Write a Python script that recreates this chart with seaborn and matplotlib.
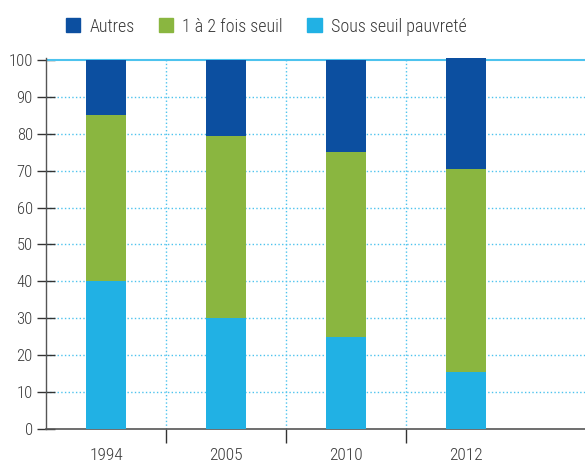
import pandas as pd
import seaborn as sns
import matplotlib.pyplot as plt
from matplotlib.patches import Patch

# Données (répartition en %)
annees = ["1994", "2005", "2010", "2012"]
sous_seuil = [40, 30, 25, 15.5]
un_a_deux = [45, 49.5, 50, 55]
autres = [15, 20.5, 25, 30]

couleurs = {"Autres": "#0c4fa0", "1 à 2 fois seuil": "#8ab640", "Sous seuil pauvreté": "#21b1e4"}

df = pd.DataFrame({"Année": annees, "Sous": sous_seuil, "Un": un_a_deux, "Autres": autres})
df["cum_un"] = df["Sous"] + df["Un"]
df["cum_autres"] = df["cum_un"] + df["Autres"]

sns.set_style("white")
plt.rcParams["font.family"] = ["Roboto Condensed", "Liberation Sans Narrow", "Lato", "DejaVu Sans"]
plt.rcParams["font.weight"] = "light"

fig = plt.figure(figsize=(5.85, 4.67), dpi=100)
ax = fig.add_axes([0.0786, 0.0814, 0.9214, 0.795])

# empilement : on dessine les cumuls du plus grand au plus petit
for col, nom in [("cum_autres", "Autres"), ("cum_un", "1 à 2 fois seuil"), ("Sous", "Sous seuil pauvreté")]:
    sns.barplot(data=df, x="Année", y=col, color=couleurs[nom], width=0.33,
                saturation=1, linewidth=0, edgecolor="none", ax=ax, zorder=3)

ax.set_xlim(-0.5, 3.99)
ax.set_ylim(0, 100.6)
ax.set_xlabel("")
ax.set_ylabel("")
ax.set_yticks(range(0, 101, 10))

grille = "#4dc3ee"
texte = "#3a3a3a"
ax.set_xticks([0.5, 1.5, 2.5], minor=True)
ax.tick_params(axis="x", which="major", bottom=True, length=0, labelsize=12.5,
               labelcolor=texte, pad=14)
ax.tick_params(axis="x", which="minor", bottom=True, length=10, width=1, color="#333333",
               direction="out")
ax.tick_params(axis="y", left=True, length=13, width=1, color="#333333", direction="inout",
               labelsize=12, labelcolor=texte, pad=3)

ax.grid(axis="x", which="minor", color=grille, linestyle=":", linewidth=1, zorder=0)
for v in range(10, 100, 10):
    ax.axhline(v, color=grille, linestyle=":", linewidth=1, zorder=0)
ax.axhline(100, color=grille, linewidth=1.5, zorder=2)

for s in ["top", "right"]:
    ax.spines[s].set_visible(False)
ax.spines["left"].set_color("#555555")
ax.spines["bottom"].set_color("#555555")
ax.spines["left"].set_linewidth(1)
ax.spines["bottom"].set_linewidth(1.2)

handles = [Patch(color=c, label=n) for n, c in couleurs.items()]
fig.legend(handles=handles, loc="center", bbox_to_anchor=(0.455, 0.943), ncol=3,
           frameon=False, fontsize=13, handlelength=0.8, handleheight=0.8,
           handletextpad=0.5, columnspacing=1.35, labelcolor=texte)

fig.savefig("out.png", dpi=100)
